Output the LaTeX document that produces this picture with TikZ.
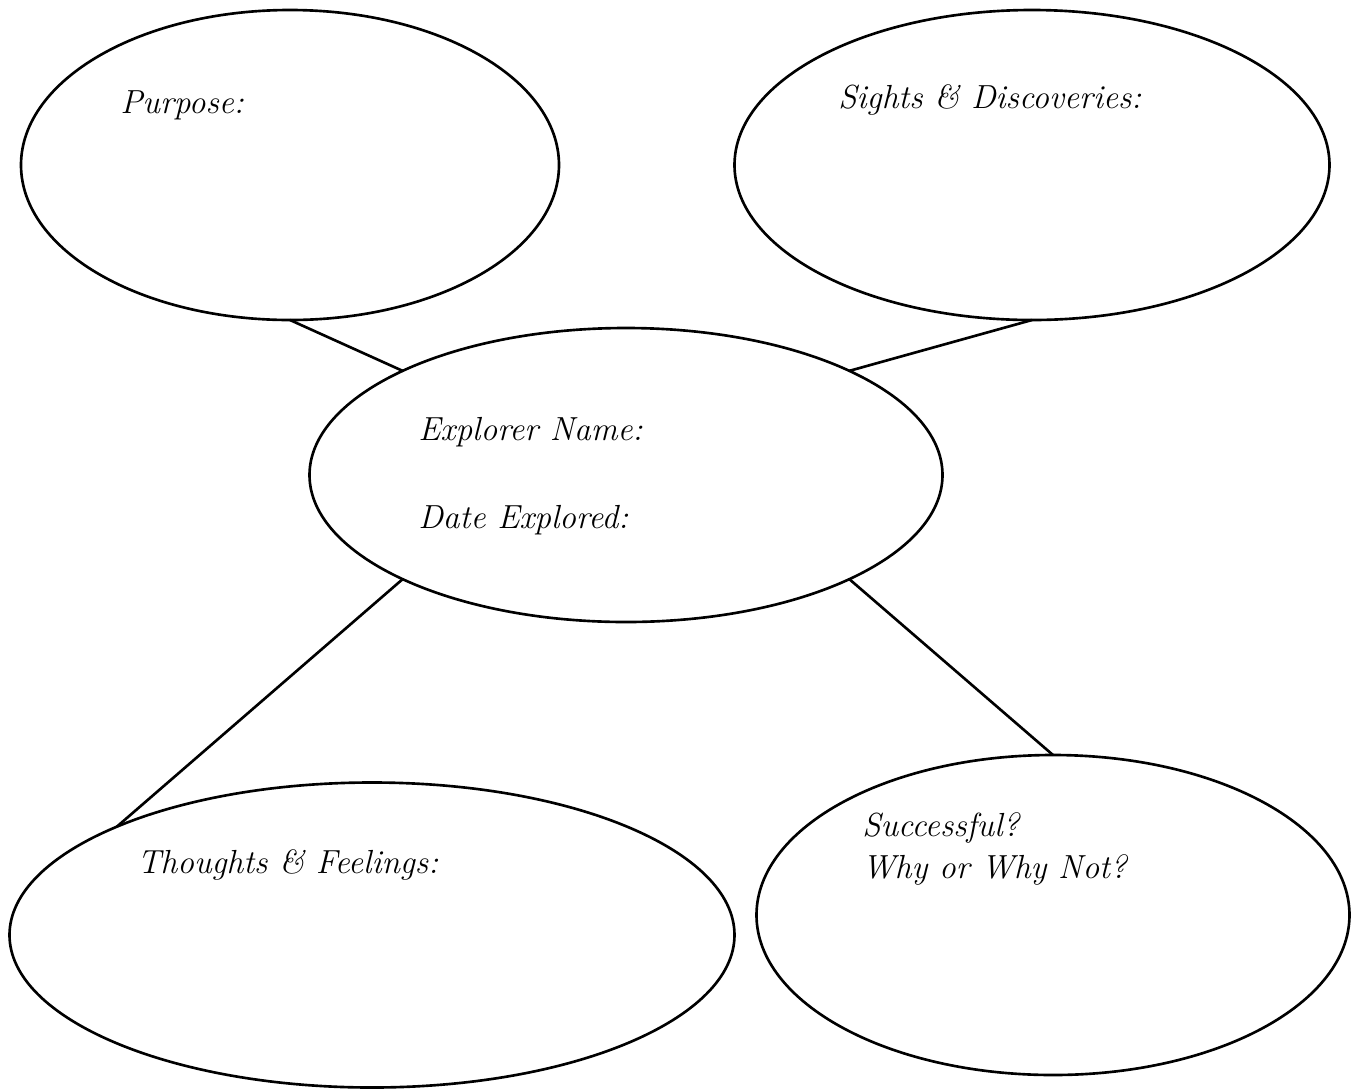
\documentclass[tikz,border=0pt]{standalone}
\usepackage{tikz}
\usetikzlibrary{shapes.geometric}

\begin{document}
\begin{tikzpicture}[
	bubble/.style={draw, ellipse, line width=1.5pt, inner sep=0pt, outer sep=0pt},
	label/.style={anchor=west, inner sep=0pt, font=\fontsize{19}{23}\selectfont\itshape},
	link/.style={line width=1.5pt}
]
\useasboundingbox (0,0) rectangle (27.12,-21.78);

% The bubbles
\node[bubble, minimum width=10.76cm, minimum height=6.2cm] (purpose) at (5.8,-3.3) {};
\node[bubble, minimum width=11.9cm, minimum height=6.2cm] (sights) at (20.64,-3.3) {};
\node[bubble, minimum width=12.66cm, minimum height=5.88cm] (explorer) at (12.52,-9.5) {};
\node[bubble, minimum width=14.5cm, minimum height=6.1cm] (thoughts) at (7.44,-18.7) {};
\node[bubble, minimum width=11.86cm, minimum height=6.4cm] (success) at (21.06,-18.3) {};

% The labels
\node[label] (purposetxt) at (2.4,-2.1) {Purpose:};
\node[label] (sightstxt) at (16.76,-2.0) {Sights \& Discoveries:};
\node[label] (nametxt) at (8.36,-8.64) {Explorer Name:};
\node[label] (datetxt) at (8.36,-10.4) {Date Explored:};
\node[label] (thoughtstxt) at (2.74,-17.3) {Thoughts \& Feelings:};
\node[label] (successtxt) at (17.24,-16.55) {Successful?};
\node[label] (whytxt) at (17.24,-17.4) {Why or Why Not?};

% The connections
\draw[link] (purpose.south) -- (explorer.155);
\draw[link] (sights.south) -- (explorer.25);
\draw[link] (explorer.205) -- (thoughts.157);
\draw[link] (explorer.-25) -- (success.north);

\end{tikzpicture}
\end{document}
